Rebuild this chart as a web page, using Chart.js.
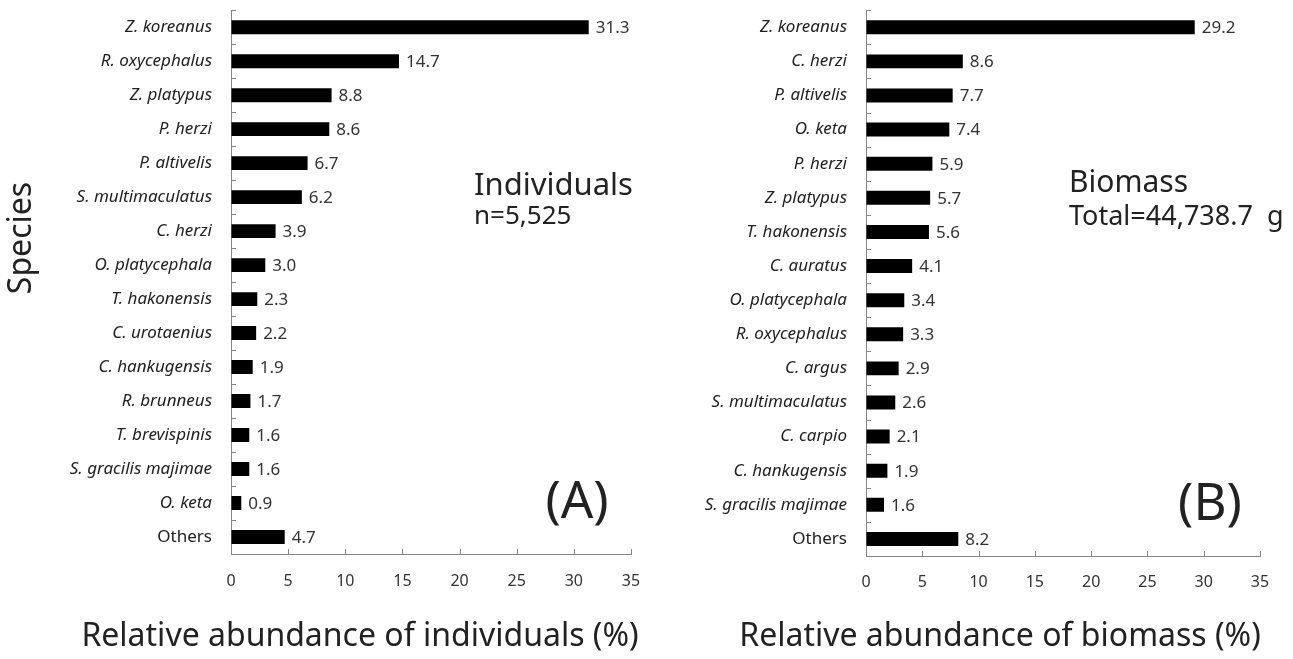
<!DOCTYPE html>
<html>
<head>
<meta charset="utf-8">
<script src="https://cdn.jsdelivr.net/npm/chart.js@4.4.1/dist/chart.umd.min.js"></script>
<style>
    html, body { margin: 0; padding: 0; background: #fff; }
    #wrap { position: relative; width: 1293px; height: 659px; }
    .panel { position: absolute; top: 0; height: 659px; }
    #panelA { left: 0; width: 646px; }
    #panelB { left: 646px; width: 647px; }
</style>
</head>
<body>
<div id="wrap">
    <div class="panel" id="panelA"><canvas id="individualsChart"></canvas></div>
    <div class="panel" id="panelB"><canvas id="biomassChart"></canvas></div>
</div>
<script>
// Relative abundance of individuals (%)
const individualSpecies = ['Z. koreanus', 'R. oxycephalus', 'Z. platypus', 'P. herzi', 'P. altivelis',
    'S. multimaculatus', 'C. herzi', 'O. platycephala', 'T. hakonensis', 'C. urotaenius',
    'C. hankugensis', 'R. brunneus', 'T. brevispinis', 'S. gracilis majimae', 'O. keta', 'Others'];
const individualValues = [31.3, 14.7, 8.8, 8.6, 6.7, 6.2, 3.9, 3.0, 2.3, 2.2, 1.9, 1.7, 1.6, 1.6, 0.9, 4.7];

// Relative abundance of biomass (%)
const biomassSpecies = ['Z. koreanus', 'C. herzi', 'P. altivelis', 'O. keta', 'P. herzi', 'Z. platypus',
    'T. hakonensis', 'C. auratus', 'O. platycephala', 'R. oxycephalus', 'C. argus',
    'S. multimaculatus', 'C. carpio', 'C. hankugensis', 'S. gracilis majimae', 'Others'];
const biomassValues = [29.2, 8.6, 7.7, 7.4, 5.9, 5.7, 5.6, 4.1, 3.4, 3.3, 2.9, 2.6, 2.1, 1.9, 1.6, 8.2];

const xTickValues = [0, 5, 10, 15, 20, 25, 30, 35];

const FONT = "'Noto Sans', sans-serif";
const AXIS_GREY = '#858585';
const TEXT = '#222';

// small inward tick marks on both axes
const innerTicks = {
    id: 'innerTicks',
    afterDraw(chart) {
        const { ctx, chartArea: a, scales: { x, y } } = chart;
        ctx.save();
        ctx.strokeStyle = AXIS_GREY;
        ctx.lineWidth = 1;
        ctx.beginPath();
        x.ticks.forEach(t => {
            const px = Math.round(x.getPixelForValue(t.value)) + 0.5;
            ctx.moveTo(px, a.bottom);
            ctx.lineTo(px, a.bottom - 5);
        });
        for (let i = 0; i < y.ticks.length; i++) {
            const py = Math.round(y.getPixelForValue(i - 0.5)) + 0.5;
            ctx.moveTo(a.left, py);
            ctx.lineTo(a.left + 5, py);
        }
        ctx.stroke();
        ctx.restore();
    }
};

// value printed just past the end of each bar
const barValues = {
    id: 'barValues',
    afterDatasetsDraw(chart) {
        const { ctx } = chart;
        const meta = chart.getDatasetMeta(0);
        const data = chart.data.datasets[0].data;
        ctx.save();
        ctx.font = '17px ' + FONT;
        ctx.fillStyle = '#333';
        ctx.textAlign = 'left';
        ctx.textBaseline = 'middle';
        meta.data.forEach((bar, i) => {
            ctx.fillText(data[i].toFixed(1), bar.x + 7, bar.y + 1);
        });
        ctx.restore();
    }
};

// free text: panel notes, letters and axis titles
const notes = {
    id: 'notes',
    afterDraw(chart, args, opts) {
        const { ctx } = chart;
        ctx.save();
        ctx.fillStyle = TEXT;
        ctx.textBaseline = 'middle';
        (opts.items || []).forEach(n => {
            ctx.save();
            ctx.font = n.size + 'px ' + FONT;
            ctx.textAlign = n.align || 'left';
            ctx.translate(n.x, n.y);
            if (n.rotate) ctx.rotate(n.rotate);
            ctx.fillText(n.text, 0, 0);
            ctx.restore();
        });
        ctx.restore();
    }
};

function makeChart(canvasId, labels, values, layout, items) {
    const ctx = document.getElementById(canvasId).getContext('2d');
    return new Chart(ctx, {
        type: 'bar',
        data: {
            labels: labels,
            datasets: [{
                data: values,
                backgroundColor: '#000',
                borderWidth: 0,
                barPercentage: 0.41,
                categoryPercentage: 1.0
            }]
        },
        options: {
            indexAxis: 'y',
            responsive: true,
            maintainAspectRatio: false,
            animation: false,
            layout: { padding: { top: layout.top, right: layout.right, left: 0, bottom: 0 } },
            scales: {
                x: {
                    min: 0,
                    max: 35,
                    afterBuildTicks: s => { s.ticks = xTickValues.map(v => ({ value: v })); },
                    afterFit: s => { s.height = layout.xHeight; },
                    // tick marks are invisible spacers; the real ones are drawn inward by innerTicks
                    grid: { display: true, drawOnChartArea: false, drawTicks: true,
                        tickLength: layout.xGap, tickColor: 'rgba(0,0,0,0)' },
                    border: { display: true, color: AXIS_GREY, width: 1 },
                    ticks: {
                        color: '#333',
                        font: { family: FONT, size: 16 },
                        padding: 0,
                        maxRotation: 0
                    }
                },
                y: {
                    afterFit: s => { s.width = layout.yWidth; },
                    grid: { display: true, drawOnChartArea: false, drawTicks: true,
                        tickLength: 19, tickColor: 'rgba(0,0,0,0)' },
                    border: { display: true, color: AXIS_GREY, width: 1 },
                    ticks: {
                        color: TEXT,
                        padding: 0,
                        autoSkip: false,
                        font: c => ({
                            family: FONT,
                            size: 17,
                            style: labels[c.index] === 'Others' ? 'normal' : 'italic'
                        })
                    }
                }
            },
            plugins: {
                legend: { display: false },
                tooltip: { enabled: false },
                notes: { items: items }
            }
        },
        plugins: [innerTicks, barValues, notes]
    });
}

makeChart('individualsChart', individualSpecies, individualValues,
    { top: 10, right: 15, yWidth: 231, xHeight: 105, xGap: 18 },
    [
        { text: 'Individuals', x: 474, y: 186, size: 31 },
        { text: 'n=5,525', x: 474, y: 217, size: 26 },
        { text: '(A)', x: 577, y: 503, size: 51, align: 'center' },
        { text: 'Species', x: 22, y: 238, size: 32, align: 'center', rotate: -Math.PI / 2 },
        { text: 'Relative abundance of individuals (%)', x: 360, y: 637, size: 32, align: 'center' }
    ]);

makeChart('biomassChart', biomassSpecies, biomassValues,
    { top: 10, right: 33, yWidth: 220, xHeight: 103, xGap: 17 },
    [
        { text: 'Biomass', x: 423, y: 183, size: 30 },
        { text: 'Total=44,738.7  g', x: 423, y: 217, size: 27 },
        { text: '(B)', x: 564, y: 505, size: 51, align: 'center' },
        { text: 'Relative abundance of biomass (%)', x: 354, y: 637, size: 32, align: 'center' }
    ]);
</script>
</body>
</html>
